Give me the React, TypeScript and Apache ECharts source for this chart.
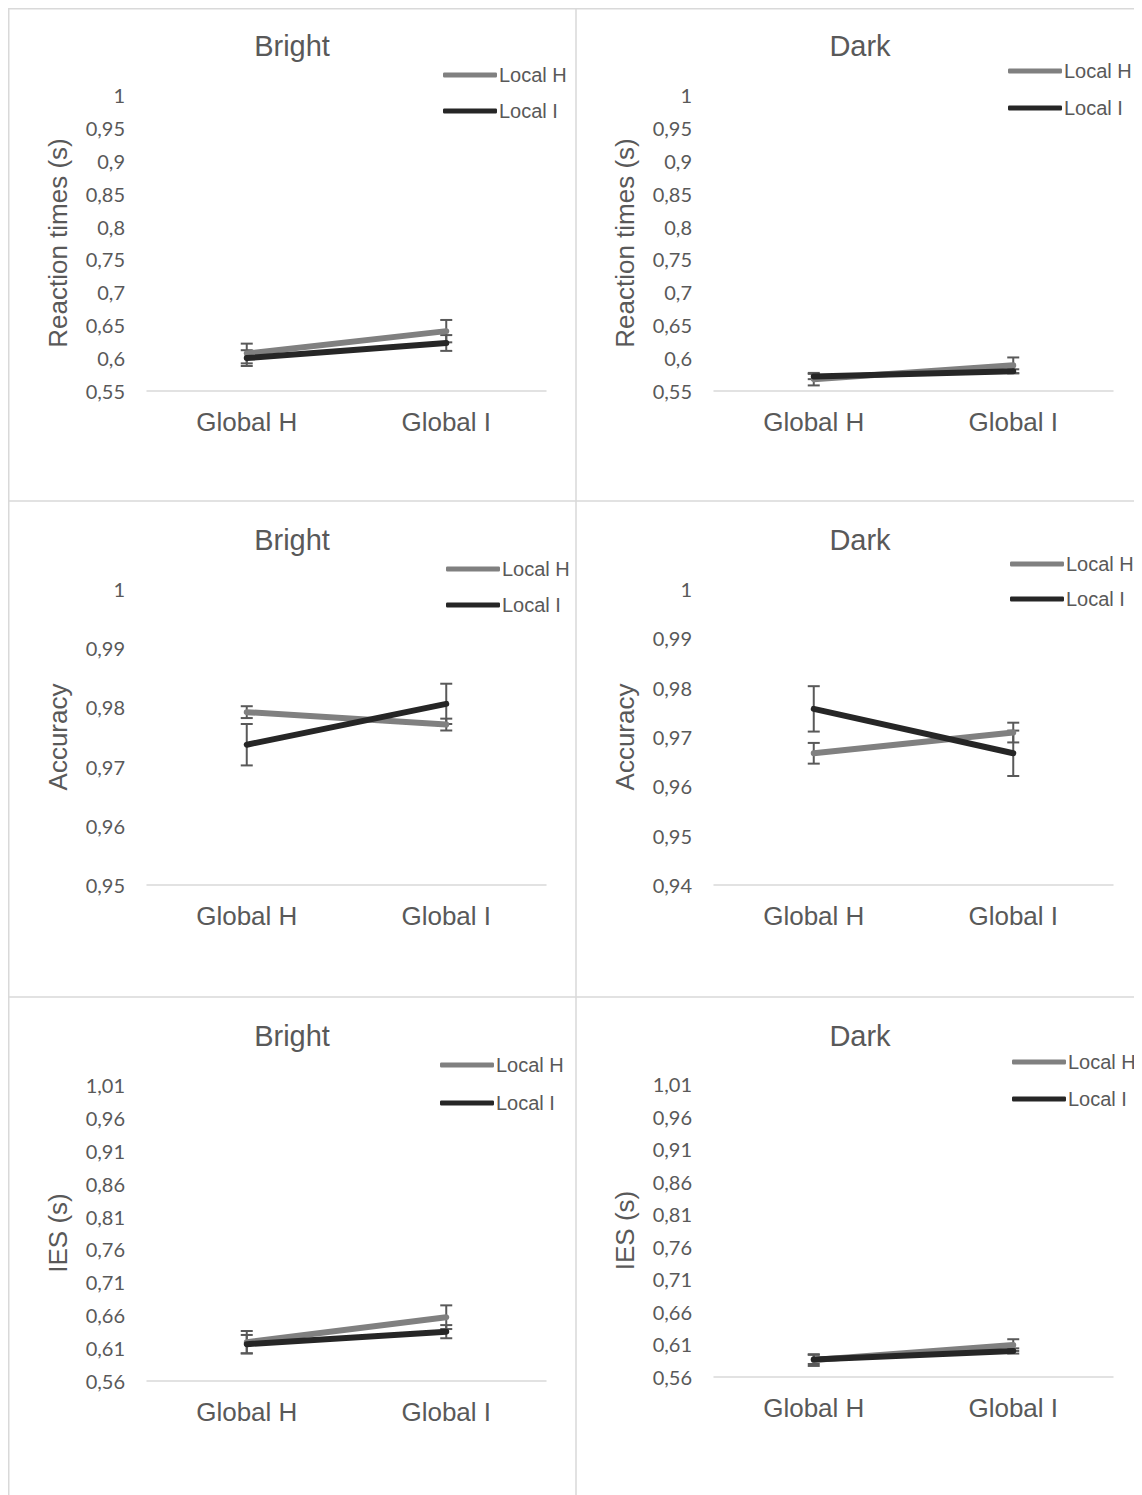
import React, { useEffect, useRef } from 'react';
import * as echarts from 'echarts';

// ---------- data ----------
const categories = ['Global H', 'Global I'];
const seriesNames = ['Local H', 'Local I'];
const panelTitles = ['Bright', 'Dark', 'Bright', 'Dark', 'Bright', 'Dark'];
const yAxisNames = ['Reaction times (s)', 'Reaction times (s)', 'Accuracy', 'Accuracy', 'IES (s)', 'IES (s)'];
const yMins = [0.55, 0.55, 0.95, 0.94, 0.56, 0.56];
const yMaxs = [1, 1, 1, 1, 1.01, 1.01];
const yIntervals = [0.05, 0.05, 0.01, 0.01, 0.05, 0.05];

// Reaction times
const rtBrightLocalH = [0.607, 0.641];
const rtBrightLocalHErr = [0.015, 0.017];
const rtBrightLocalI = [0.600, 0.623];
const rtBrightLocalIErr = [0.012, 0.012];
const rtDarkLocalH = [0.568, 0.589];
const rtDarkLocalHErr = [0.0095, 0.012];
const rtDarkLocalI = [0.572, 0.580];
const rtDarkLocalIErr = [0.004, 0.003];
// Accuracy
const accBrightLocalH = [0.9792, 0.9771];
const accBrightLocalHErr = [0.001, 0.001];
const accBrightLocalI = [0.9737, 0.9806];
const accBrightLocalIErr = [0.0035, 0.0034];
const accDarkLocalH = [0.9667, 0.9709];
const accDarkLocalHErr = [0.0021, 0.002];
const accDarkLocalI = [0.9757, 0.9667];
const accDarkLocalIErr = [0.0046, 0.0046];
// IES
const iesBrightLocalH = [0.619, 0.657];
const iesBrightLocalHErr = [0.017, 0.018];
const iesBrightLocalI = [0.616, 0.635];
const iesBrightLocalIErr = [0.014, 0.010];
const iesDarkLocalH = [0.586, 0.609];
const iesDarkLocalHErr = [0.009, 0.009];
const iesDarkLocalI = [0.587, 0.600];
const iesDarkLocalIErr = [0.007, 0.004];

const panelData = [
  [rtBrightLocalH, rtBrightLocalHErr, rtBrightLocalI, rtBrightLocalIErr],
  [rtDarkLocalH, rtDarkLocalHErr, rtDarkLocalI, rtDarkLocalIErr],
  [accBrightLocalH, accBrightLocalHErr, accBrightLocalI, accBrightLocalIErr],
  [accDarkLocalH, accDarkLocalHErr, accDarkLocalI, accDarkLocalIErr],
  [iesBrightLocalH, iesBrightLocalHErr, iesBrightLocalI, iesBrightLocalIErr],
  [iesDarkLocalH, iesDarkLocalHErr, iesDarkLocalI, iesDarkLocalIErr],
];

// ---------- layout (chart coords) ----------
const grids = [
  { left: 139, top: 87, width: 399, height: 296 },
  { left: 706, top: 87, width: 399, height: 296 },
  { left: 139, top: 581, width: 399, height: 296 },
  { left: 706, top: 581, width: 399, height: 296 },
  { left: 139, top: 1077, width: 399, height: 296 },
  { left: 706, top: 1076, width: 399, height: 293 },
];
const titlePos = [
  { x: 284, y: 23 }, { x: 852, y: 23 },
  { x: 284, y: 517 }, { x: 852, y: 517 },
  { x: 284, y: 1013 }, { x: 852, y: 1013 },
];
const legendPos = [
  { x: 435, y: 57, gap: 16 }, { x: 1000, y: 53, gap: 17 },
  { x: 438, y: 551, gap: 16 }, { x: 1002, y: 546, gap: 15 },
  { x: 432, y: 1047, gap: 18 }, { x: 1004, y: 1044, gap: 17 },
];

const TEXT = '#595959';
const GRAY = '#808080';
const BLACK = '#262626';
const BORDER = '#d9d9d9';

const fmt = (v: number) => String(Number(v.toFixed(2))).replace('.', ',');

const errRender = (params: any, api: any) => {
  const x = api.value(0);
  const y = api.value(1);
  const e = api.value(2);
  const top = api.coord([x, y + e]);
  const bot = api.coord([x, y - e]);
  const w = 6;
  const style = { stroke: '#595959', lineWidth: 2, fill: 'none' };
  return {
    type: 'group',
    children: [
      { type: 'line', shape: { x1: top[0], y1: top[1], x2: bot[0], y2: bot[1] }, style },
      { type: 'line', shape: { x1: top[0] - w, y1: top[1], x2: top[0] + w, y2: top[1] }, style },
      { type: 'line', shape: { x1: bot[0] - w, y1: bot[1], x2: bot[0] + w, y2: bot[1] }, style },
    ],
  };
};

export default function App() {
  const ref = useRef<HTMLDivElement>(null);
  useEffect(() => {
    if (!ref.current) return;
    const chart = echarts.init(ref.current, null, { renderer: 'svg' });
    const series: any[] = [];
    panelData.forEach((pd, i) => {
      const [hv, he, iv, ie] = pd as number[][];
      series.push({
        type: 'custom', name: 'errH', xAxisIndex: i, yAxisIndex: i,
        renderItem: errRender, encode: { x: 0, y: 1 },
        data: hv.map((v, k) => [k, v, he[k]]), z: 1, silent: true,
      });
      series.push({
        type: 'custom', name: 'errI', xAxisIndex: i, yAxisIndex: i,
        renderItem: errRender, encode: { x: 0, y: 1 },
        data: iv.map((v, k) => [k, v, ie[k]]), z: 1, silent: true,
      });
      series.push({
        type: 'line', name: seriesNames[0], xAxisIndex: i, yAxisIndex: i,
        data: hv, symbol: 'none', z: 2,
        itemStyle: { color: GRAY },
        lineStyle: { color: GRAY, width: 6, cap: 'round' },
      });
      series.push({
        type: 'line', name: seriesNames[1], xAxisIndex: i, yAxisIndex: i,
        data: iv, symbol: 'none', z: 3,
        itemStyle: { color: BLACK },
        lineStyle: { color: BLACK, width: 6, cap: 'round' },
      });
    });

    const option: any = {
      animation: false,
      backgroundColor: '#ffffff',
      title: panelTitles.map((t, i) => ({
        text: t,
        left: titlePos[i].x,
        top: titlePos[i].y,
        textAlign: 'center',
        padding: 0,
        textStyle: { fontFamily: 'Liberation Sans', fontSize: 29, fontWeight: 'normal', color: TEXT },
      })),
      legend: legendPos.map((p) => ({
        data: seriesNames,
        orient: 'vertical',
        left: p.x,
        top: p.y,
        padding: 0,
        itemGap: p.gap,
        itemWidth: 54,
        itemHeight: 5,
        icon: 'roundRect',
        selectedMode: false,
        itemStyle: { borderWidth: 0 },
        textStyle: { fontFamily: 'Liberation Sans', fontSize: 20, color: TEXT, padding: [0, 0, 0, -3] },
      })),
      grid: grids.map((g) => ({ ...g, containLabel: false })),
      xAxis: grids.map((_, i) => ({
        type: 'category',
        gridIndex: i,
        data: categories,
        boundaryGap: true,
        axisLine: { show: true, lineStyle: { color: BORDER, width: 1.5 } },
        axisTick: { show: false },
        splitLine: { show: false },
        axisLabel: { interval: 0, margin: 18, fontSize: 26, color: TEXT, fontFamily: 'Liberation Sans' },
      })),
      yAxis: grids.map((_, i) => ({
        type: 'value',
        gridIndex: i,
        min: yMins[i],
        max: yMaxs[i],
        interval: yIntervals[i],
        name: yAxisNames[i],
        nameLocation: 'middle',
        nameGap: 76,
        nameTextStyle: { fontFamily: 'Liberation Sans', fontSize: 26, color: TEXT },
        axisLine: { show: false },
        axisTick: { show: false },
        splitLine: { show: false },
        axisLabel: { margin: 22, fontSize: 20, color: TEXT, fontFamily: 'Lato', formatter: fmt },
      })),
      graphic: [
        { type: 'line', shape: { x1: 0, y1: 0.75, x2: 1134, y2: 0.75 }, style: { stroke: BORDER, lineWidth: 1.5 } },
        { type: 'line', shape: { x1: 0.75, y1: 0, x2: 0.75, y2: 1487 }, style: { stroke: BORDER, lineWidth: 1.5 } },
        { type: 'line', shape: { x1: 568, y1: 0, x2: 568, y2: 1487 }, style: { stroke: BORDER, lineWidth: 1.5 } },
        { type: 'line', shape: { x1: 0, y1: 493, x2: 1134, y2: 493 }, style: { stroke: BORDER, lineWidth: 1.5 } },
        { type: 'line', shape: { x1: 0, y1: 989, x2: 1134, y2: 989 }, style: { stroke: BORDER, lineWidth: 1.5 } },
      ],
      series,
    };
    chart.setOption(option);
    return () => chart.dispose();
  }, []);
  return <div ref={ref} style={{ width: 1134, height: 1487 }} />;
}
